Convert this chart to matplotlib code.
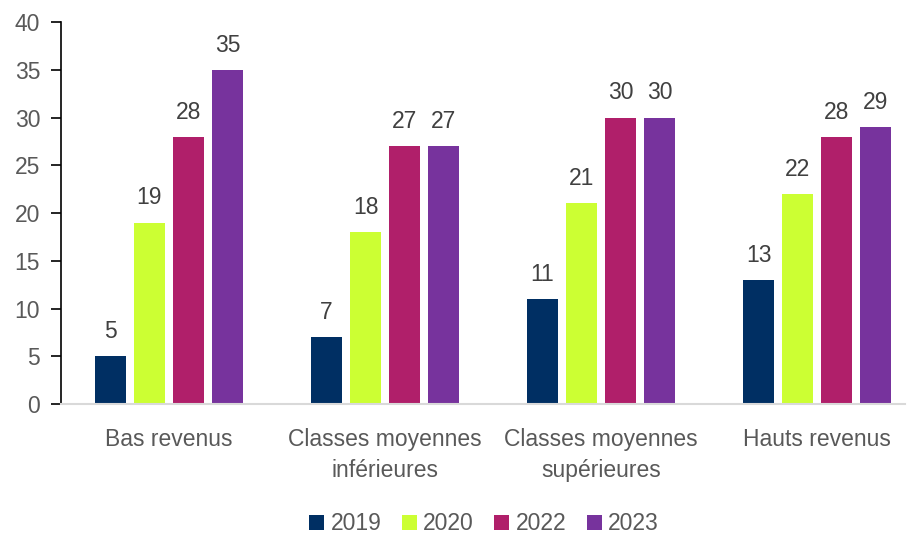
import numpy as np
import matplotlib.pyplot as plt

categories = ["Bas revenus", "Classes moyennes\ninférieures",
              "Classes moyennes\nsupérieures", "Hauts revenus"]
years = ["2019", "2020", "2022", "2023"]
v2019 = [5, 7, 11, 13]
v2020 = [19, 18, 21, 22]
v2022 = [28, 27, 30, 28]
v2023 = [35, 27, 30, 29]
series = [v2019, v2020, v2022, v2023]
colors = ["#002F63", "#CCFF33", "#B01F6A", "#77339D"]

plt.rcParams['font.family'] = ['Liberation Sans', 'DejaVu Sans']
grey = "#595959"
fs = 16.5

fig = plt.figure(figsize=(9.13, 5.38), dpi=100)
ax = fig.add_axes([0.0668, 0.249, 0.9244, 0.71])

x = np.arange(len(categories))
step = 0.1806
width = 0.1435
for i, (vals, col, yr) in enumerate(zip(series, colors, years)):
    pos = x + (i - 1.5) * step
    bars = ax.bar(pos, vals, width, color=col, label=yr)
    for b, v in zip(bars, vals):
        ax.text(b.get_x() + b.get_width() / 2, v + 1.9, str(v),
                ha="center", va="baseline", fontsize=fs, color="#404040")

ax.set_xlim(-0.5, 3.407)
ax.set_ylim(0, 40)
ax.set_yticks(range(0, 41, 5))
ax.set_xticks(x)
ax.set_xticklabels(categories, linespacing=1.45)
ax.tick_params(axis="y", labelsize=fs, labelcolor=grey, length=7, width=1.2,
               color="black", pad=8)
ax.tick_params(axis="x", labelsize=fs, labelcolor=grey, length=0, pad=17.5)
for s in ["top", "right"]:
    ax.spines[s].set_visible(False)
ax.spines["left"].set_linewidth(1.2)
ax.spines["bottom"].set_color("#D9D9D9")
ax.spines["bottom"].set_linewidth(1.5)

fig.legend(loc="center", ncol=4, frameon=False, fontsize=fs,
           labelcolor=grey, handlelength=0.65, handleheight=0.65,
           handletextpad=0.27, columnspacing=0.9,
           bbox_to_anchor=(484 / 913, 1 - 524 / 538))

fig.savefig("out.png", dpi=100)
